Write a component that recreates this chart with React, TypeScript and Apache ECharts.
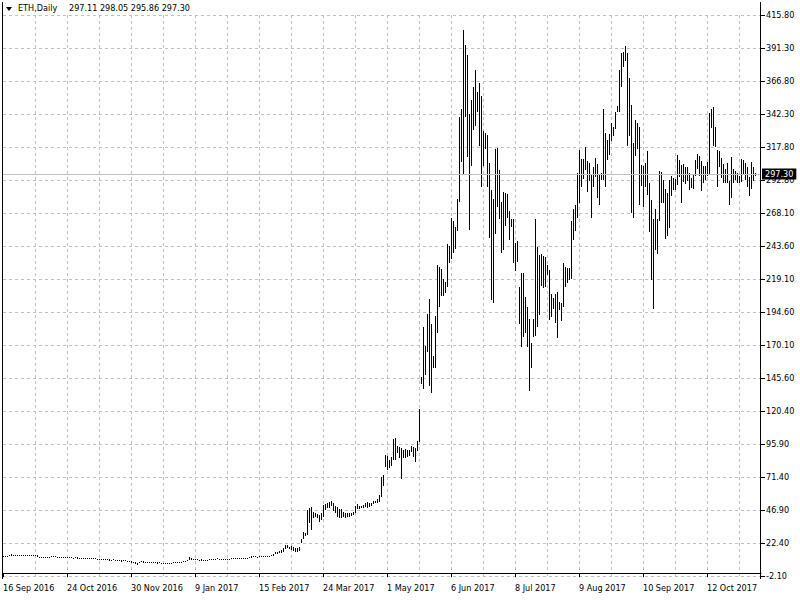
import React, { useEffect, useRef } from 'react';
import * as echarts from 'echarts';

const symbolName = 'ETH,Daily';
const lastOpen = 297.11;
const lastHigh = 298.05;
const lastLow = 295.86;
const lastClose = 297.3;

const dateLabels = [
  '16 Sep 2016', '24 Oct 2016', '30 Nov 2016', '9 Jan 2017', '15 Feb 2017', '24 Mar 2017',
  '1 May 2017', '6 Jun 2017', '8 Jul 2017', '9 Aug 2017', '10 Sep 2017', '12 Oct 2017',
];

const priceLabels = [
  '-2.10', '22.40', '46.90', '71.40', '95.90', '120.40', '145.60', '170.10', '194.60',
  '219.10', '243.60', '268.10', '292.80', '317.80', '342.30', '366.80', '391.30', '415.80',
];

const highs = [
  12.9, 12.8, 13.0, 13.2, 14.2, 13.8, 13.6, 13.5, 13.4, 13.5,
  13.5, 13.6, 13.5, 13.4, 13.5, 13.6, 13.5, 13.3, 12.4, 12.3,
  12.3, 12.4, 12.3, 12.3, 12.6, 12.7, 12.5, 12.4, 12.2, 12.3,
  12.4, 12.1, 11.9, 11.8, 11.7, 11.6, 11.8, 11.7, 11.5, 11.3,
  11.4, 11.3, 11.2, 11.0, 11.1, 11.2, 11.0, 10.9, 10.8, 10.7,
  10.8, 10.6, 10.5, 10.2, 10.0, 10.2, 10.1, 9.9, 9.6, 9.5,
  9.9, 9.7, 9.4, 9.2, 8.8, 8.6, 8.2, 7.8, 8.6, 8.9,
  8.8, 8.7, 8.5, 8.6, 8.4, 8.3, 8.2, 8.0, 8.1, 7.9,
  7.8, 7.6, 7.5, 7.7, 7.9, 8.2, 8.4, 8.3, 8.7, 8.6,
  9.2, 9.1, 9.8, 11.9, 11.6, 10.8, 10.6, 10.4, 10.0, 10.2,
  10.1, 9.9, 10.0, 10.3, 10.5, 10.6, 10.9, 11.0, 10.8, 10.7,
  10.6, 10.8, 10.9, 10.8, 11.0, 11.3, 11.2, 11.0, 11.3, 11.6,
  11.4, 11.2, 11.6, 12.0, 12.8, 12.6, 12.5, 12.4, 12.6, 12.7,
  12.5, 12.6, 12.8, 13.0, 13.4, 14.6, 15.8, 15.5, 16.2, 17.3,
  18.5, 21.0, 21.0, 19.8, 20.2, 19.3, 18.5, 18.5, 19.3, 25.2,
  30.9, 30.2, 47.1, 48.3, 49.6, 45.8, 45.1, 44.1, 43.3, 44.6,
  50.8, 51.5, 52.5, 53.3, 53.8, 52.5, 50.0, 49.6, 47.6, 47.6,
  45.8, 45.1, 44.6, 45.1, 45.1, 45.8, 50.0, 51.5, 50.0, 50.0,
  50.8, 52.5, 53.3, 52.5, 52.5, 54.0, 54.0, 55.0, 58.2, 71.4,
  73.1, 88.0, 87.3, 84.3, 86.3, 99.7, 100.4, 94.7, 94.2, 93.0,
  91.8, 92.2, 91.8, 91.8, 94.7, 93.7, 93.0, 98.7, 122.0, 146.4,
  183.6, 169.5, 193.1, 204.2, 185.6, 161.8, 191.6, 229.6, 227.8, 226.3,
  218.9, 216.9, 245.2, 244.0, 264.3, 262.3, 258.1, 278.7, 340.1, 345.8,
  404.6, 393.4, 386.0, 341.8, 352.5, 362.4, 374.8, 358.7, 365.4, 355.5,
  329.4, 328.1, 326.4, 305.3, 285.4, 278.5, 316.0, 317.0, 300.3, 276.7,
  284.2, 283.4, 282.5, 270.0, 263.8, 263.6, 246.2, 247.7, 213.4, 223.4,
  223.4, 206.0, 198.5, 189.1, 171.2, 189.1, 263.6, 243.2, 237.0, 237.8,
  236.3, 235.3, 229.6, 225.9, 208.0, 204.7, 208.0, 209.7, 202.3, 201.5,
  231.3, 228.3, 227.1, 227.1, 262.6, 271.0, 274.3, 298.3, 315.2, 308.3,
  308.3, 317.7, 307.3, 305.3, 297.3, 302.3, 309.0, 304.8, 297.3, 298.3,
  345.5, 327.6, 322.7, 327.2, 335.1, 332.6, 343.8, 348.0, 374.8, 387.7,
  388.5, 392.7, 387.7, 368.6, 348.7, 320.2, 337.6, 335.6, 332.6, 304.0,
  303.3, 305.8, 314.5, 290.4, 278.0, 263.6, 271.0, 263.6, 299.8, 299.1,
  292.9, 285.9, 283.4, 292.9, 295.9, 294.1, 293.4, 311.5, 307.8, 304.0,
  304.8, 302.3, 302.3, 297.9, 294.1, 296.6, 307.8, 312.3, 310.8, 307.3,
  303.3, 303.3, 306.5, 343.0, 345.5, 347.0, 332.1, 315.2, 314.7, 309.0,
  304.8, 300.8, 305.3, 292.4, 310.3, 300.8, 299.8, 297.9, 295.9, 308.3,
  307.8, 305.3, 302.8, 295.4, 306.5, 302.8, 298.05,
];

const lows = [
  11.9, 12.0, 12.3, 12.5, 12.8, 12.9, 12.8, 12.9, 12.7, 12.9,
  12.9, 13.0, 12.9, 12.8, 12.9, 12.9, 12.7, 12.2, 11.8, 11.7,
  11.8, 11.9, 11.7, 11.8, 12.0, 12.1, 11.9, 11.8, 11.6, 11.7,
  11.8, 11.4, 11.2, 11.0, 11.0, 10.9, 11.0, 10.9, 10.8, 10.6,
  10.7, 10.6, 10.4, 10.3, 10.4, 10.5, 10.2, 10.1, 10.0, 9.9,
  10.1, 9.8, 9.7, 9.4, 9.0, 9.5, 9.4, 9.2, 8.9, 8.7,
  9.2, 8.8, 8.5, 8.3, 7.8, 7.6, 7.0, 6.4, 7.5, 8.0,
  7.9, 7.8, 7.7, 7.9, 7.6, 7.5, 7.4, 7.2, 7.3, 7.2,
  7.0, 6.8, 6.6, 6.9, 7.1, 7.3, 7.6, 7.5, 7.9, 7.8,
  8.3, 8.4, 8.8, 9.5, 10.1, 9.7, 9.8, 9.6, 9.3, 9.4,
  9.3, 9.2, 9.3, 9.6, 9.8, 9.9, 10.1, 10.2, 10.1, 10.0,
  9.9, 10.1, 10.2, 10.1, 10.3, 10.5, 10.5, 10.3, 10.6, 10.8,
  10.7, 10.5, 10.8, 11.1, 11.6, 11.8, 11.7, 11.6, 11.9, 12.0,
  11.9, 11.9, 12.1, 12.3, 12.6, 13.0, 14.2, 14.5, 15.0, 14.8,
  16.0, 17.8, 18.5, 18.3, 17.3, 16.5, 16.0, 16.0, 16.8, 22.2,
  25.2, 27.7, 28.4, 37.1, 32.2, 40.9, 41.6, 40.9, 38.4, 39.6,
  41.6, 47.1, 48.3, 48.3, 50.0, 46.6, 44.6, 42.1, 40.9, 40.9,
  42.1, 40.9, 41.6, 42.1, 42.6, 43.3, 44.6, 47.6, 47.6, 48.3,
  48.3, 49.1, 48.3, 49.6, 50.0, 51.5, 52.0, 52.5, 53.3, 57.0,
  64.9, 78.8, 76.9, 78.1, 79.8, 84.3, 84.3, 89.3, 85.5, 69.9,
  85.5, 85.5, 86.3, 87.3, 90.5, 86.8, 83.1, 91.3, 98.0, 140.9,
  137.2, 147.6, 165.0, 139.7, 134.5, 153.1, 153.1, 179.2, 198.5, 206.5,
  206.5, 209.0, 213.4, 230.8, 233.8, 238.8, 241.2, 255.1, 276.7, 306.5,
  297.4, 340.1, 310.3, 255.6, 303.6, 330.1, 333.0, 343.8, 318.2, 287.9,
  303.6, 315.7, 287.9, 249.4, 203.5, 201.0, 252.7, 273.0, 263.6, 238.8,
  240.8, 258.6, 264.3, 248.2, 258.1, 230.8, 225.3, 232.1, 185.6, 168.2,
  176.2, 178.7, 168.2, 136.0, 153.1, 176.2, 176.7, 183.1, 192.3, 213.9,
  212.2, 213.4, 222.1, 188.6, 190.6, 196.5, 186.6, 174.9, 196.0, 188.1,
  198.5, 213.4, 215.9, 218.4, 218.9, 248.2, 255.1, 264.3, 275.5, 288.0,
  293.4, 300.3, 283.7, 292.4, 264.8, 288.0, 295.4, 279.2, 274.3, 292.9,
  292.9, 288.0, 307.8, 311.5, 322.2, 325.7, 330.6, 343.8, 343.8, 362.4,
  376.8, 381.8, 318.2, 325.7, 268.5, 264.3, 310.8, 315.7, 274.3, 288.4,
  273.0, 288.0, 281.7, 253.9, 218.4, 196.5, 240.7, 237.8, 262.6, 276.0,
  275.5, 248.7, 251.2, 256.9, 281.0, 285.4, 285.4, 289.2, 295.4, 276.0,
  291.6, 289.9, 292.4, 285.4, 286.7, 285.9, 295.9, 300.8, 295.9, 284.9,
  290.4, 292.9, 295.9, 296.6, 331.4, 318.2, 317.7, 287.9, 302.8, 294.1,
  290.4, 290.4, 290.9, 274.3, 279.2, 290.4, 292.9, 290.9, 290.9, 291.6,
  297.4, 292.9, 287.9, 281.0, 286.0, 292.4, 295.86,
];

const Y_MIN = -2.1;
const Y_MAX = 415.8;
const Y_STEP = 24.582353;
const SLOTS = 380;
const BARS_PER_LABEL = 32;
const BARS_PER_GRID = 16;

const FONT = '"DejaVu Sans Condensed", "DejaVu Sans", sans-serif';
const GRID_COLOR = '#c0c0c0';

export default function App() {
  const ref = useRef<HTMLDivElement>(null);

  useEffect(() => {
    if (!ref.current) return;
    const chart = echarts.init(ref.current, null, { renderer: 'svg' });
    const categories = Array.from({ length: SLOTS }, (_, i) => String(i));
    const data = highs.map((h, i) => [i, h, lows[i]]);
    const labelAt = (i: number) => i % BARS_PER_LABEL === 0 && i / BARS_PER_LABEL < dateLabels.length;

    chart.setOption({
      animation: false,
      backgroundColor: '#ffffff',
      textStyle: { fontFamily: FONT },
      grid: { left: 3, right: 39, top: 15, bottom: 24, containLabel: false },
      xAxis: {
        type: 'category',
        data: categories,
        boundaryGap: false,
        offset: 2,
        axisLine: { show: true, lineStyle: { color: '#000', width: 1 } },
        axisTick: { show: true, length: 4, interval: (i: number) => labelAt(i), lineStyle: { color: '#000' } },
        axisLabel: {
          show: true,
          interval: (i: number) => labelAt(i),
          formatter: (_v: string, i: number) => (labelAt(i) ? dateLabels[i / BARS_PER_LABEL] : ''),
          align: 'left',
          margin: 5,
          color: '#000',
          fontSize: 9,
          fontFamily: FONT,
        },
        splitLine: {
          show: true,
          interval: (i: number) => i > 0 && i % BARS_PER_GRID === 0,
          lineStyle: { color: GRID_COLOR, type: [3, 3], width: 1 },
        },
      },
      yAxis: {
        type: 'value',
        position: 'right',
        min: Y_MIN,
        max: Y_MAX,
        interval: Y_STEP,
        scale: false,
        axisLine: { show: false },
        axisTick: { show: true, length: 4, lineStyle: { color: '#000' } },
        axisLabel: {
          margin: 5,
          color: '#000',
          fontSize: 9,
          fontFamily: FONT,
          formatter: (v: number) => {
            const k = Math.round((v - Y_MIN) / Y_STEP);
            if (k < 0 || k >= priceLabels.length) return '';
            if (Math.abs(v - (Y_MIN + k * Y_STEP)) > 0.05) return '';
            return priceLabels[k];
          },
        },
        splitLine: { show: true, lineStyle: { color: GRID_COLOR, type: [3, 3], width: 1 } },
      },
      series: [
        {
          type: 'custom',
          data,
          encode: { x: 0, y: [1, 2] },
          renderItem: (_params: any, api: any) => {
            const i = api.value(0);
            const top = api.coord([i, api.value(1)]);
            const bot = api.coord([i, api.value(2)]);
            const x = Math.round(top[0]);
            const y1 = Math.round(top[1]);
            const y2 = Math.round(bot[1]);
            return {
              type: 'rect',
              shape: { x, y: y1, width: 1, height: Math.max(1, y2 - y1) },
              style: { fill: '#000' },
            };
          },
          markLine: {
            silent: true,
            symbol: ['none', 'none'],
            lineStyle: { color: GRID_COLOR, type: 'solid', width: 1 },
            label: {
              show: true,
              position: 'end',
              distance: 1,
              formatter: lastClose.toFixed(2),
              color: '#fff',
              backgroundColor: '#000',
              padding: [1, 3, 1, 3],
              fontSize: 9,
              fontFamily: FONT,
            },
            emphasis: { disabled: true },
            data: [{ yAxis: lastClose }],
          },
          z: 3,
        },
      ],
      graphic: [
        { type: 'line', shape: { x1: 2.5, y1: 2, x2: 2.5, y2: 579 }, style: { stroke: '#000', lineWidth: 1 }, z: 10 },
        { type: 'line', shape: { x1: 760.5, y1: 2, x2: 760.5, y2: 579 }, style: { stroke: '#000', lineWidth: 1 }, z: 10 },
        { type: 'polygon', shape: { points: [[6, 7], [12, 7], [9, 11]] }, style: { fill: '#000' }, z: 10 },
        {
          type: 'text', left: 18, top: 3, z: 10,
          style: { text: symbolName, fill: '#000', font: `9px ${FONT}` },
        },
        {
          type: 'text', left: 69, top: 3, z: 10,
          style: {
            text: [lastOpen, lastHigh, lastLow, lastClose].map((v) => v.toFixed(2)).join(' '),
            fill: '#000',
            font: `9px ${FONT}`,
          },
        },
      ],
    });

    return () => chart.dispose();
  }, []);

  return (
    <div
      ref={ref}
      style={{ position: 'fixed', left: 0, top: 0, width: 800, height: 600, background: '#fff' }}
    />
  );
}
